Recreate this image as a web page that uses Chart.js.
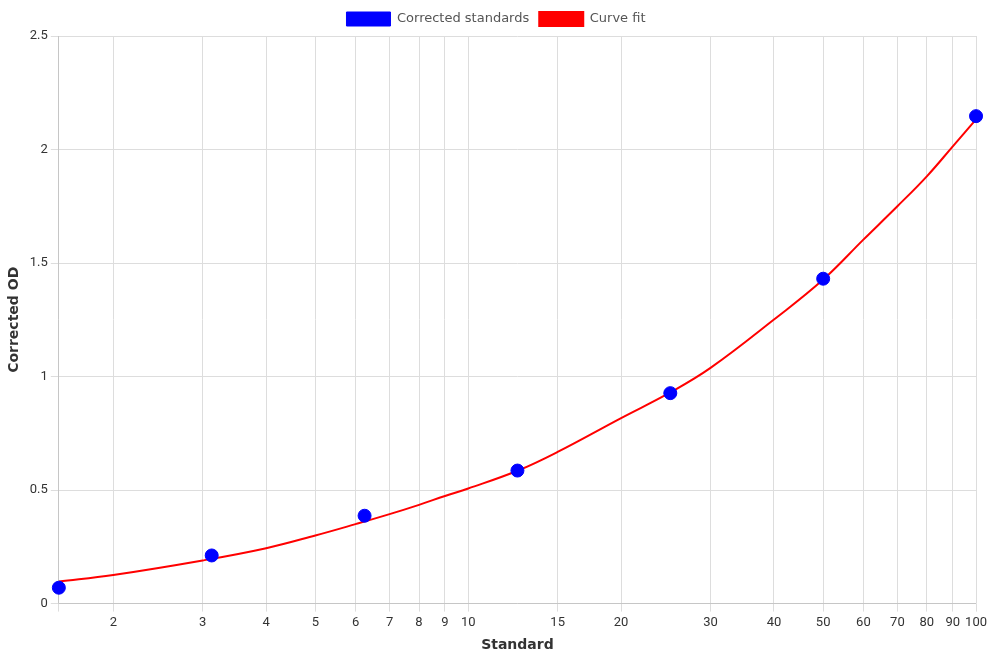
<!DOCTYPE html>
<html lang="en">
<head>
    <meta charset="UTF-8">
    <title>Standard Curve</title>
    <style>
        html, body { margin: 0; padding: 0; background: #fff; }
        #wrap { width: 990px; height: 660px; }
    </style>
</head>
<body>
    <div id="wrap"><canvas id="curveChart"></canvas></div>
    <script src="https://cdn.jsdelivr.net/npm/chart.js"></script>
    <script>
        // Standards (x) and corrected OD readings (y)
        const standardX = [1.5625, 3.125, 6.25, 12.5, 25, 50, 100];
        const standardOD = [0.07, 0.212, 0.387, 0.586, 0.927, 1.431, 2.147];

        // Fitted curve
        const fitX = [1.5625, 2, 3, 4, 5, 6, 7, 8, 9, 10, 12.5, 15, 20, 25, 30, 40, 50, 60, 70, 80, 90, 100];
        const fitOD = [0.097, 0.126, 0.190, 0.244, 0.300, 0.350, 0.394, 0.435, 0.474, 0.507, 0.585, 0.668, 0.817, 0.93, 1.038, 1.251, 1.427, 1.603, 1.750, 1.882, 2.014, 2.133];

        // Axis ticks
        const xTicks = [1.5625, 2, 3, 4, 5, 6, 7, 8, 9, 10, 15, 20, 30, 40, 50, 60, 70, 80, 90, 100];
        const yTicks = [0, 0.5, 1, 1.5, 2, 2.5];

        const titleFont = { family: "'DejaVu Sans', sans-serif", size: 14, weight: 'bold' };
        const tickFont = { family: "Roboto, 'Liberation Sans', sans-serif", size: 13 };

        const ctx = document.getElementById('curveChart').getContext('2d');
        const chart = new Chart(ctx, {
            type: 'scatter',
            data: {
                datasets: [
                    {
                        label: 'Corrected standards',
                        data: standardX.map((x, i) => ({ x: x, y: standardOD[i] })),
                        backgroundColor: 'blue',
                        borderColor: 'blue',
                        pointRadius: 6.5,
                        pointHoverRadius: 6.5,
                        clip: false,
                        order: 0
                    },
                    {
                        label: 'Curve fit',
                        type: 'line',
                        data: fitX.map((x, i) => ({ x: x, y: fitOD[i] })),
                        borderColor: 'red',
                        backgroundColor: 'red',
                        borderWidth: 2,
                        pointRadius: 0,
                        fill: false,
                        tension: 0.4,
                        order: 1
                    }
                ]
            },
            options: {
                responsive: true,
                maintainAspectRatio: false,
                animation: false,
                layout: { padding: { left: 2, top: 2, bottom: 2 } },
                plugins: {
                    legend: {
                        position: 'top',
                        labels: {
                            boxWidth: 44,
                            boxHeight: 14,
                            color: '#555',
                            font: { family: "'DejaVu Sans', sans-serif", size: 13 }
                        }
                    },
                    tooltip: { enabled: false }
                },
                scales: {
                    x: {
                        type: 'logarithmic',
                        min: xTicks[0],
                        max: xTicks[xTicks.length - 1],
                        afterBuildTicks: (axis) => {
                            axis.ticks = xTicks.map(v => ({ value: v }));
                        },
                        title: { display: true, text: 'Standard', color: '#333', font: titleFont },
                        grid: { color: '#ddd' },
                        ticks: {
                            autoSkip: false,
                            maxRotation: 0,
                            color: '#333',
                            font: tickFont,
                            callback: (v) => Number.isInteger(v) ? String(v) : ''
                        }
                    },
                    y: {
                        min: yTicks[0],
                        max: yTicks[yTicks.length - 1],
                        afterBuildTicks: (axis) => {
                            axis.ticks = yTicks.map(v => ({ value: v }));
                        },
                        title: { display: true, text: 'Corrected OD', color: '#333', font: titleFont },
                        grid: { color: '#ddd' },
                        ticks: {
                            color: '#333',
                            font: tickFont,
                            callback: (v) => String(v)
                        }
                    }
                }
            }
        });
    </script>
</body>
</html>
